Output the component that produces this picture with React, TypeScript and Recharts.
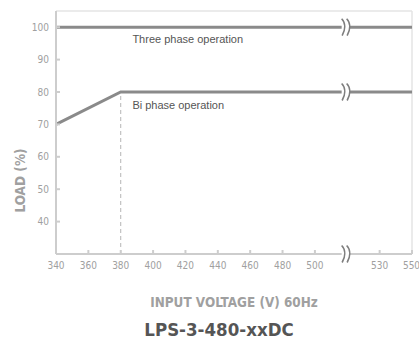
import React from "react";
import {
  LineChart,
  Line,
  XAxis,
  YAxis,
  ReferenceLine,
  ReferenceDot,
  Label,
} from "recharts";

// x values: 340..500 real; values beyond the axis break are shifted by +10 (530 -> 540, 550 -> 560)
const voltages = [340, 380, 560];
const threePhase = [100, 100, 100];
const biPhase = [70, 80, 80];
const xTicks = [340, 360, 380, 400, 420, 440, 460, 480, 500, 540, 560];
const xTickLabels: Record<number, string> = { 540: "530", 560: "550" };
const yTicks = [40, 50, 60, 70, 80, 90, 100];
const breakX = 519;
const breakYs = [100, 80, 30];

const data = voltages.map((v, i) => ({ v, three: threePhase[i], bi: biPhase[i] }));

const LINE = "#8a8a8a";
const AXIS = "#cdcdcd";
const TICK = "#a0a0a0";
const COND = "DejaVu Sans Condensed, sans-serif";

const BreakMark = (props: any) => {
  const { cx, cy } = props;
  if (cx == null || cy == null) return null;
  const h = 8.5;
  const s = (dx: number) =>
    `M ${cx + dx - 1.5} ${cy - h} C ${cx + dx + 3} ${cy - 4}, ${cx + dx + 2} ${cy + 3}, ${cx + dx - 1} ${cy + h}`;
  return (
    <g>
      <rect x={cx - 4} y={cy - 3} width={8} height={6} fill="#fff" />
      <path d={s(-2.5)} stroke="#7e7e7e" strokeWidth={1.6} fill="none" />
      <path d={s(2.5)} stroke="#7e7e7e" strokeWidth={1.6} fill="none" />
    </g>
  );
};

const YLabel = (props: any) => {
  const vb = props.viewBox || {};
  const x = (vb.x ?? 0) + 20;
  const y = (vb.y ?? 0) + (vb.height ?? 0) / 2 + 48;
  return (
    <text
      x={x}
      y={y}
      transform={`rotate(-90, ${x}, ${y})`}
      textAnchor="middle"
      dominantBaseline="central"
      fill="#a0a0a0"
      fontSize={13.5}
      fontWeight="bold"
      fontFamily={COND}
    >
      LOAD (%)
    </text>
  );
};

export default function App() {
  return (
    <div style={{ position: "absolute", left: 0, top: 0, width: 419, height: 339, background: "#fff" }}>
      <LineChart
        width={419}
        height={339}
        data={data}
        margin={{ top: 11, right: 7, bottom: 55, left: 0 }}
      >
        <XAxis
          dataKey="v"
          type="number"
          domain={[340, 560]}
          ticks={xTicks}
          tickFormatter={(t: number) => xTickLabels[t] ?? String(t)}
          stroke={AXIS}
          strokeWidth={2}
          tick={{ fill: TICK, fontSize: 10, fontFamily: COND }}
          tickSize={-4}
          tickMargin={12}
          height={30}
        >
          <Label
            value="INPUT VOLTAGE (V) 60Hz"
            position="insideBottom"
            offset={-23}
            fill="#a0a0a0"
            fontSize={13.4}
            fontWeight="bold"
            fontFamily={COND}
          />
        </XAxis>
        <YAxis
          type="number"
          domain={[30, 105]}
          ticks={yTicks}
          stroke={AXIS}
          strokeWidth={2}
          tick={{ fill: TICK, fontSize: 10, fontFamily: COND }}
          tickSize={-4}
          tickMargin={11}
          width={56}
          allowDataOverflow
        >
          <Label content={YLabel} />
        </YAxis>
        <ReferenceLine y={105} stroke="#e4e4e4" strokeWidth={1.5} />
        <ReferenceLine x={560} stroke="#e4e4e4" strokeWidth={1.5} />
        <ReferenceLine
          segment={[{ x: 380, y: 30 }, { x: 380, y: 80 }]}
          stroke="#b5b5b5"
          strokeDasharray="4 3"
          strokeWidth={1}
        />
        <Line
          dataKey="three"
          stroke={LINE}
          strokeWidth={3}
          dot={false}
          isAnimationActive={false}
        />
        <Line
          dataKey="bi"
          stroke={LINE}
          strokeWidth={3}
          dot={false}
          isAnimationActive={false}
        />
        {breakYs.map((y) => (
          <ReferenceDot key={y} x={breakX} y={y} r={0} shape={BreakMark} ifOverflow="visible" />
        ))}
        <ReferenceDot x={387.2} y={100} r={0} ifOverflow="visible">
          <Label
            value="Three phase operation"
            position="bottom"
            offset={8}
            fill="#555"
            fontSize={11}
            fontFamily="Liberation Sans, Arial, sans-serif"
            style={{ textAnchor: "start" }}
          />
        </ReferenceDot>
        <ReferenceDot x={387.2} y={80} r={0} ifOverflow="visible">
          <Label
            value="Bi phase operation"
            position="bottom"
            offset={9}
            fill="#555"
            fontSize={11}
            fontFamily="Liberation Sans, Arial, sans-serif"
            style={{ textAnchor: "start" }}
          />
        </ReferenceDot>
      </LineChart>
      <div
        style={{
          position: "absolute",
          left: 0,
          width: 438,
          top: 319,
          textAlign: "center",
          fontFamily: COND,
          fontWeight: "bold",
          fontSize: 18.5,
          color: "#555",
          lineHeight: "22px",
        }}
      >
        LPS-3-480-xxDC
      </div>
    </div>
  );
}
